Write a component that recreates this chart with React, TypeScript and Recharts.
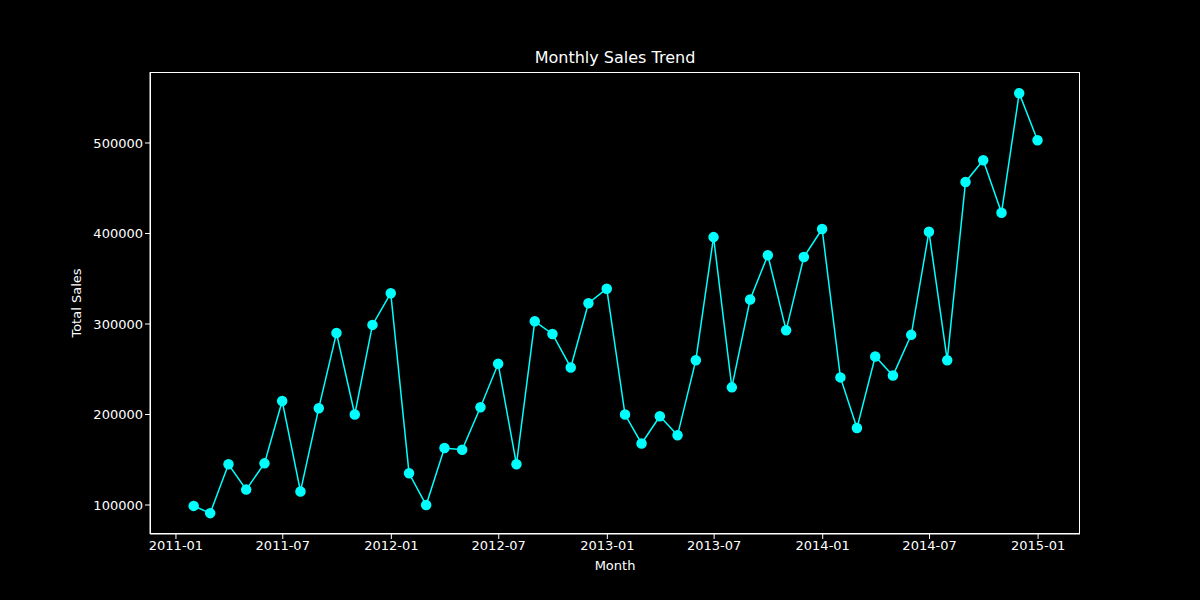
import { LineChart, Line, XAxis, YAxis, Label } from "recharts";

const months = [
  "2011-01-31","2011-02-28","2011-03-31","2011-04-30","2011-05-31","2011-06-30","2011-07-31","2011-08-31","2011-09-30","2011-10-31","2011-11-30","2011-12-31",
  "2012-01-31","2012-02-29","2012-03-31","2012-04-30","2012-05-31","2012-06-30","2012-07-31","2012-08-31","2012-09-30","2012-10-31","2012-11-30","2012-12-31",
  "2013-01-31","2013-02-28","2013-03-31","2013-04-30","2013-05-31","2013-06-30","2013-07-31","2013-08-31","2013-09-30","2013-10-31","2013-11-30","2013-12-31",
  "2014-01-31","2014-02-28","2014-03-31","2014-04-30","2014-05-31","2014-06-30","2014-07-31","2014-08-31","2014-09-30","2014-10-31","2014-11-30","2014-12-31",
];
const sales = [
  99000, 91000, 145000, 117000, 146000, 215000, 115000, 207000, 290000, 200000, 299000, 334000,
  135000, 100000, 163000, 161000, 208000, 256000, 145000, 303000, 289000, 252000, 323000, 339000,
  200000, 168000, 198000, 177000, 260000, 396000, 230000, 327000, 376000, 293000, 374000, 405000,
  241000, 185000, 264000, 243000, 288000, 402000, 260000, 457000, 481000, 423000, 555000, 503000,
];
const xTickLabels = ["2011-01","2011-07","2012-01","2012-07","2013-01","2013-07","2014-01","2014-07","2015-01"];
const yTicks = [100000, 200000, 300000, 400000, 500000];

const ts = (s: string) => Date.parse(s + (s.length === 7 ? "-01" : "") + "T00:00:00Z");
const data = months.map((m, i) => ({ t: ts(m), value: sales[i] }));
const DAY = 86400000;
const xDomain = [ts("2011-01") - 44 * DAY, ts("2015-01") + 71 * DAY];
const fmt = (v: number) => {
  const d = new Date(v);
  return `${d.getUTCFullYear()}-${String(d.getUTCMonth() + 1).padStart(2, "0")}`;
};
const font = "'DejaVu Sans', sans-serif";
const tickStyle = { fill: "#fff", fontSize: 13, fontFamily: font };

export default function App() {
  return (
    <div style={{ position: "absolute", left: 0, top: 0, width: 1200, height: 600, background: "#000" }}>
      <div style={{ position: "absolute", top: 48, width: 1200, textAlign: "center", left: 15, color: "#fff", fontFamily: font, fontSize: 16 }}>
        Monthly Sales Trend
      </div>
      <div style={{ position: "absolute", left: 150, top: 72, width: 930, height: 462, border: "1px solid #fff", boxSizing: "border-box" }} />
      <LineChart width={1200} height={600} data={data} margin={{ top: 72, right: 120, left: 80, bottom: 26 }}>
        <XAxis
          dataKey="t" type="number" scale="time" domain={xDomain}
          ticks={xTickLabels.map(ts)} tickFormatter={fmt}
          tick={tickStyle} stroke="#fff" height={40} tickSize={5}
        >
          <Label value="Month" position="insideBottom" offset={0} fill="#fff" fontSize={13} fontFamily={font} dy={-4} />
        </XAxis>
        <YAxis
          type="number" domain={[67960, 578450]} ticks={yTicks} allowDataOverflow
          tick={tickStyle} stroke="#fff" width={70} tickSize={5}
        >
          <Label value="Total Sales" angle={-90} position="insideLeft" offset={-4} fill="#fff" fontSize={13} fontFamily={font} style={{ textAnchor: "middle" }} />
        </YAxis>
        <Line
          dataKey="value" stroke="#00ffff" strokeWidth={1.5}
          dot={{ r: 4.5, fill: "#00ffff", stroke: "#00ffff" }}
          isAnimationActive={false}
        />
      </LineChart>
    </div>
  );
}
